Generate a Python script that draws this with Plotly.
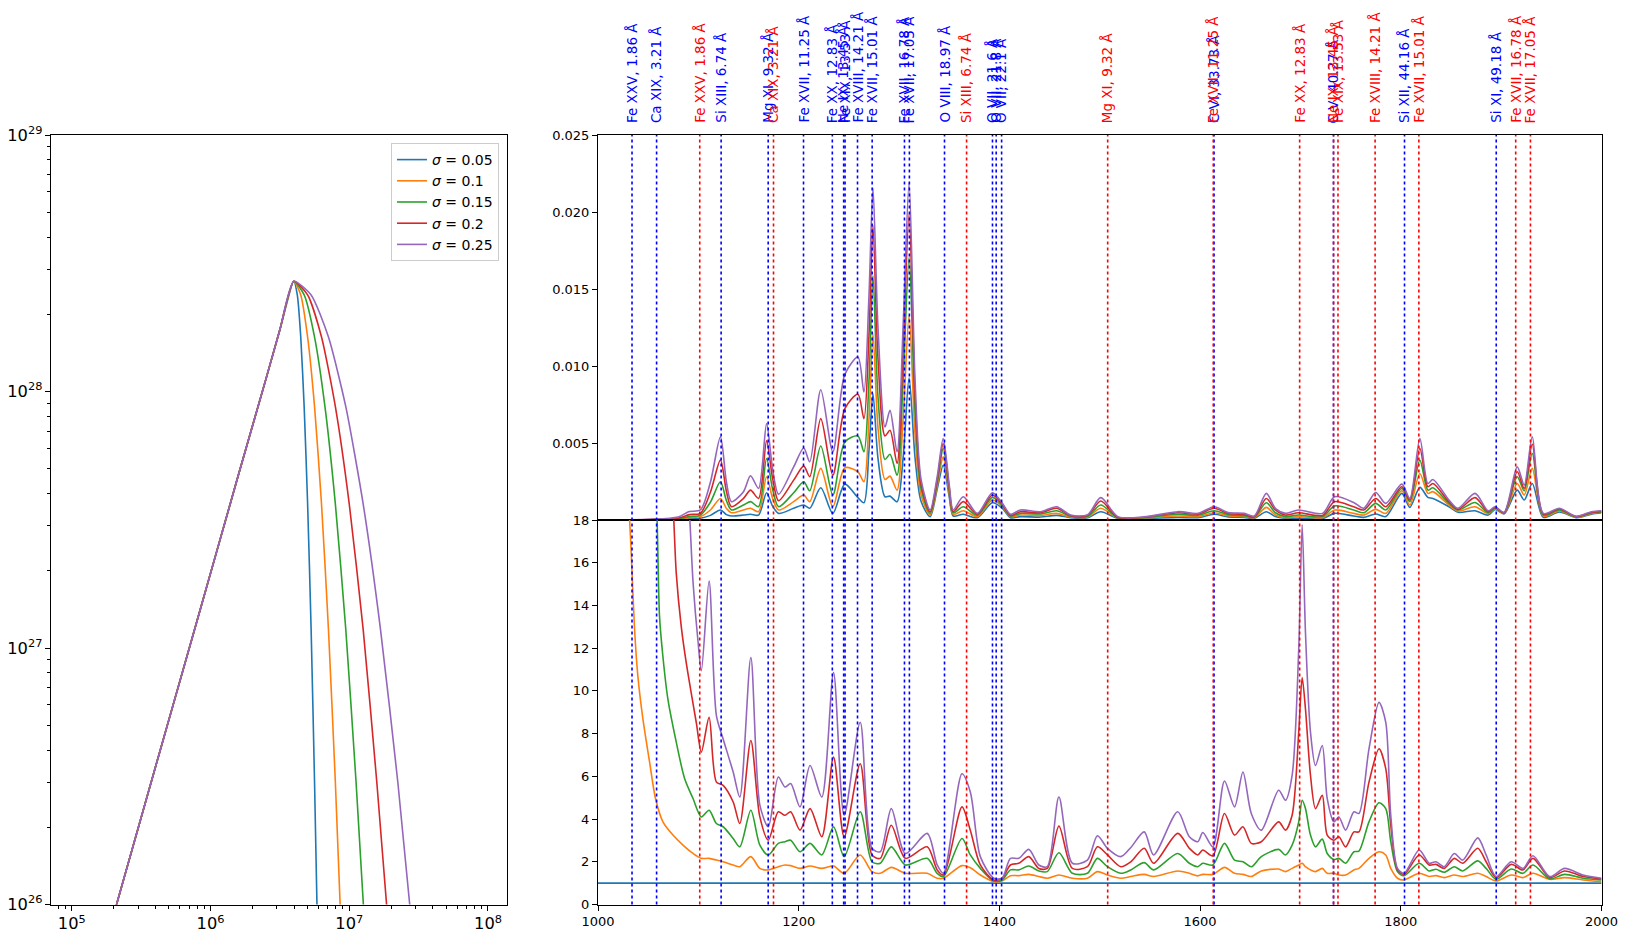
import numpy as np
import plotly.graph_objects as go

# ---------------- data ----------------
sigmas = [0.05, 0.1, 0.15, 0.2, 0.25]
colors = ["#1f77b4", "#ff7f0e", "#2ca02c", "#d62728", "#9467bd"]

# Left panel: DEM vs temperature (shared rising side)
dem_rise_T = [2.0e5, 3.98e5, 7.94e5, 1.58e6, 2.51e6, 3.16e6]
dem_rise = [9.1e25, 3.39e26, 1.26e27, 4.68e27, 1.12e28, 1.74e28]
# falling side for each sigma
dem_tail_T = {
    0.05: [3.98e6, 4.22e6, 4.47e6, 4.73e6, 5.01e6, 5.31e6, 5.62e6, 5.89e6],
    0.1: [3.98e6, 4.47e6, 5.01e6, 5.62e6, 6.31e6, 7.08e6, 7.94e6, 8.71e6],
    0.15: [3.98e6, 4.73e6, 5.62e6, 6.68e6, 7.94e6, 9.44e6, 1.12e7, 1.29e7],
    0.2: [3.98e6, 5.01e6, 6.31e6, 7.94e6, 1.0e7, 1.26e7, 1.58e7, 1.91e7],
    0.25: [3.98e6, 5.31e6, 7.08e6, 9.44e6, 1.26e7, 1.68e7, 2.24e7, 2.82e7],
}
dem_tail = [2.69e28, 2.38e28, 1.63e28, 8.73e27, 3.64e27, 1.18e27, 2.99e26, 8.3e25]

# Top-right panel: spectra (values in units of 1e-3)
spec_x = [1000, 1050, 1080, 1091, 1102, 1112, 1122, 1128, 1133, 1145, 1152, 1160, 1168, 1174, 1180,
          1195, 1205, 1211, 1222, 1234, 1246, 1259, 1265, 1270, 1274, 1279, 1286, 1291, 1298, 1304,
          1310, 1316, 1322, 1331, 1338, 1344, 1350, 1354, 1364, 1378, 1393, 1403, 1411, 1421, 1441,
          1457, 1471, 1488, 1501, 1518, 1544, 1578, 1598, 1614, 1628, 1644, 1654, 1666, 1675, 1685,
          1698, 1722, 1734, 1753, 1763, 1775, 1785, 1801, 1809, 1819, 1827, 1832, 1848, 1857, 1874,
          1887, 1894, 1903, 1916, 1923, 1931, 1942, 1958, 1975, 1990, 2000]
spec_s005 = [0.00, 0.01, 0.03, 0.08, 0.11, 0.30, 0.65, 0.35, 0.26, 0.32,
             0.37, 0.32, 1.77, 0.90, 0.43, 0.76, 0.97, 0.76, 2.09, 0.43,
             2.33, 1.45, 1.12, 4.50, 8.20, 4.00, 1.51, 1.55, 1.19, 4.00,
             9.24, 4.00, 1.20, 0.22, 2.00, 3.56, 1.50, 0.26, 0.37, 0.15,
             1.12, 0.76, 0.15, 0.22, 0.19, 0.30, 0.15, 0.15, 0.54, 0.11,
             0.11, 0.17, 0.15, 0.37, 0.20, 0.17, 0.11, 0.54, 0.22, 0.11,
             0.11, 0.09, 0.43, 0.26, 0.17, 0.39, 0.22, 1.73, 0.82, 2.12,
             1.47, 1.40, 0.86, 0.50, 0.60, 0.32, 0.69, 0.40, 1.94, 1.30,
             2.37, 0.17, 0.52, 0.15, 0.38, 0.47]
spec_s010 = [0.00, 0.01, 0.05, 0.15, 0.22, 0.65, 1.40, 0.75, 0.47, 0.65,
             0.76, 0.54, 2.81, 1.40, 0.65, 1.19, 1.62, 1.19, 3.35, 0.86,
             3.39, 3.13, 2.48, 6.50, 12.09, 6.00, 2.63, 2.85, 1.94, 6.50,
             13.28, 5.50, 1.60, 0.32, 2.20, 4.10, 1.70, 0.37, 0.60, 0.22,
             1.30, 0.86, 0.22, 0.32, 0.30, 0.43, 0.19, 0.20, 0.76, 0.13,
             0.13, 0.26, 0.22, 0.47, 0.28, 0.22, 0.15, 0.82, 0.32, 0.15,
             0.22, 0.15, 0.65, 0.43, 0.32, 0.69, 0.43, 1.90, 0.97, 3.02,
             1.73, 1.84, 0.97, 0.58, 0.86, 0.41, 0.73, 0.42, 2.37, 1.62,
             3.35, 0.26, 0.58, 0.18, 0.42, 0.50]
spec_s015 = [0.00, 0.02, 0.08, 0.22, 0.32, 1.15, 2.48, 1.25, 0.65, 0.97,
             1.19, 0.86, 3.99, 2.00, 0.86, 1.77, 2.48, 1.90, 4.81, 1.62,
             5.07, 5.46, 4.43, 9.00, 15.87, 8.00, 3.93, 4.27, 2.91, 9.00,
             17.06, 7.00, 2.00, 0.43, 2.40, 4.64, 1.90, 0.47, 0.86, 0.30,
             1.47, 0.93, 0.26, 0.43, 0.39, 0.60, 0.24, 0.25, 0.97, 0.15,
             0.15, 0.37, 0.30, 0.60, 0.35, 0.28, 0.19, 1.12, 0.47, 0.22,
             0.32, 0.22, 0.91, 0.65, 0.47, 1.08, 0.65, 2.05, 1.19, 3.89,
             1.94, 2.09, 1.08, 0.65, 1.14, 0.47, 0.78, 0.45, 2.81, 1.90,
             4.32, 0.32, 0.65, 0.20, 0.46, 0.53]
spec_s020 = [0.00, 0.03, 0.12, 0.35, 0.43, 1.80, 3.89, 1.85, 0.86, 1.40,
             1.94, 1.40, 5.14, 2.70, 1.25, 2.59, 3.50, 2.81, 6.58, 2.91,
             7.23, 8.16, 6.58, 12.0, 19.11, 10.5, 5.46, 5.83, 3.67, 11.0,
             19.86, 8.00, 2.30, 0.54, 2.60, 4.97, 2.10, 0.54, 1.19, 0.37,
             1.62, 1.01, 0.30, 0.54, 0.47, 0.76, 0.28, 0.30, 1.23, 0.17,
             0.18, 0.47, 0.38, 0.76, 0.42, 0.35, 0.22, 1.40, 0.65, 0.32,
             0.47, 0.30, 1.19, 0.86, 0.65, 1.40, 0.86, 2.16, 1.30, 4.64,
             2.16, 2.37, 1.19, 0.69, 1.45, 0.54, 0.82, 0.47, 3.13, 2.05,
             4.92, 0.39, 0.71, 0.22, 0.50, 0.56]
spec_s025 = [0.00, 0.05, 0.20, 0.55, 0.65, 2.45, 5.40, 2.45, 1.19, 1.84,
             2.87, 2.05, 6.26, 3.30, 1.68, 3.45, 4.68, 3.78, 8.46, 4.43,
             9.46, 10.58, 8.31, 14.5, 21.55, 12.5, 6.04, 7.12, 4.43, 12.5,
             21.91, 9.00, 2.60, 0.65, 2.80, 5.29, 2.30, 0.65, 1.51, 0.43,
             1.77, 1.08, 0.37, 0.65, 0.54, 0.86, 0.32, 0.35, 1.45, 0.22,
             0.20, 0.54, 0.43, 0.86, 0.48, 0.43, 0.26, 1.73, 0.76, 0.43,
             0.65, 0.43, 1.51, 1.14, 0.76, 1.79, 1.08, 2.33, 1.40, 5.29,
             2.37, 2.63, 1.30, 0.76, 1.73, 0.60, 0.86, 0.50, 3.45, 2.27,
             5.40, 0.43, 0.76, 0.24, 0.54, 0.60]
spec_scale = 1e-3

# Bottom-right panel: ratio to sigma=0.05 spectrum
ratio_x = [1103, 1110.7, 1118, 1124.7, 1134.7, 1141.3, 1152.3, 1161.3, 1169.7, 1179.7, 1186.3, 1192,
           1201.3, 1211.3, 1223, 1234.7, 1245.3, 1261.3, 1273, 1281.3, 1292.3, 1306.3, 1328, 1338,
           1344.3, 1362.7, 1371, 1381, 1394.3, 1402.7, 1411, 1419.3, 1429.3, 1439.3, 1447.7, 1459.3,
           1472.7, 1487.7, 1497.7, 1507.7, 1521, 1531, 1544.3, 1553.7, 1577.7, 1589.3, 1597.7, 1602.7,
           1612.7, 1624.3, 1634.3, 1642.7, 1651, 1661,
           1678.3, 1685, 1691.7, 1698.3, 1701.7, 1705, 1710, 1715, 1721.7, 1726.7, 1733.3, 1738.3,
           1745, 1753.3, 1758.3, 1768.3, 1778.3, 1785, 1790, 1796.7, 1803.3, 1818.3, 1828.3, 1835,
           1843.3, 1853.3, 1861.7, 1876.7, 1885, 1895, 1910, 1921.7, 1931.7, 1948.3, 1963.3, 1981.7, 2000]
ratio_s010 = [2.16, 2.16, 2.08, 2.00, 1.85, 1.77, 2.24, 1.69, 1.62, 1.77, 1.85, 1.82, 1.69, 1.80, 1.69, 1.80,
              1.46, 2.32, 1.54, 1.46, 1.74, 1.46, 1.46, 1.23,
              1.23, 1.82, 1.72, 1.38, 1.07, 1.10, 1.35, 1.35, 1.41, 1.31, 1.23, 1.38, 1.23, 1.23, 1.54,
              1.38, 1.23, 1.31, 1.41, 1.31, 1.57, 1.46, 1.34, 1.41, 1.41, 1.74, 1.46, 1.41, 1.31, 1.57,
              1.66, 1.54, 1.69, 1.85, 1.93, 1.77, 1.62, 1.54, 1.69, 1.46, 1.46, 1.38, 1.38, 1.62, 1.69,
              2.16, 2.47, 2.32, 1.69, 1.23, 1.15, 1.46, 1.31, 1.35, 1.26, 1.38, 1.31, 1.46, 1.31, 1.10,
              1.38, 1.26, 1.46, 1.18, 1.26, 1.15, 1.07]
ratio_s015 = [4.10, 4.41, 3.79, 3.64, 3.09, 2.70, 4.41, 2.78, 2.32, 2.86, 2.94, 3.01, 2.47, 2.86, 2.32, 3.64,
              2.24, 4.34, 2.00, 1.93, 2.70, 1.85, 2.16, 1.46,
              1.31, 3.09, 2.32, 1.69, 1.10, 1.15, 1.62, 1.62, 1.80, 1.57, 1.54, 2.42, 1.46, 1.46, 2.16,
              1.77, 1.46, 1.62, 1.96, 1.62, 2.39, 1.93, 1.77, 1.93, 1.85, 2.86, 2.08, 2.00, 1.77, 2.24,
              2.58, 2.32, 2.78, 3.87, 4.88, 4.49, 3.25, 2.70, 3.06, 2.39, 2.11, 2.16, 1.93, 2.47, 2.50,
              3.87, 4.76, 4.49, 2.94, 1.54, 1.35, 1.93, 1.57, 1.65, 1.51, 1.77, 1.57, 2.04, 1.69, 1.18,
              1.66, 1.46, 1.85, 1.20, 1.41, 1.23, 1.15]
ratio_s020 = [7.13, 8.76, 5.73, 5.58, 4.80, 3.79, 7.68, 4.10, 3.01, 4.34, 4.18, 4.34, 3.48, 4.49, 3.17, 6.90,
              3.17, 6.59, 2.32, 2.16, 3.71, 2.16, 2.70, 1.62,
              1.38, 4.57, 3.48, 1.85, 1.15, 1.23, 1.85, 1.93, 2.24, 1.69, 1.69, 3.67, 1.69, 1.77, 2.70,
              2.32, 1.77, 2.00, 2.63, 1.93, 3.33, 2.63, 2.32, 2.55, 2.28, 4.26, 3.25, 3.64, 2.86, 2.94,
              3.87, 3.48, 4.18, 8.07, 10.63, 9.15, 6.05, 4.49, 5.11, 3.25, 3.01, 3.17, 2.70, 3.40, 3.40,
              5.73, 7.29, 6.36, 3.71, 1.62, 1.41, 2.32, 1.85, 1.88, 1.69, 2.16, 1.93, 2.63, 2.00, 1.26,
              1.88, 1.62, 2.16, 1.26, 1.57, 1.31, 1.20]
ratio_s025 = [10.94, 15.14, 8.84, 7.75, 6.20, 5.03, 11.56, 4.65, 3.64, 5.97, 5.50, 5.66, 4.57, 6.51, 5.03,
              10.86, 4.18, 8.53, 2.63, 2.47, 4.49, 2.39, 3.33, 1.85,
              1.46, 6.12, 5.27, 2.24, 1.23, 1.23, 2.16, 2.16, 2.58, 1.85, 1.77, 5.03, 1.93, 2.08, 3.22,
              2.63, 2.24, 2.67, 3.40, 2.32, 4.34, 3.17, 2.94, 3.37, 2.70, 5.78, 4.57, 6.20, 4.26, 3.48,
              5.35, 4.88, 6.05, 11.95, 17.78, 12.73, 8.07, 6.51, 7.44, 4.96, 3.87, 4.10, 3.48, 4.34, 4.26,
              7.29, 9.46, 8.53, 4.18, 1.69, 1.46, 2.55, 1.93, 2.00, 1.77, 2.39, 2.08, 3.12, 2.32, 1.31,
              2.00, 1.69, 2.28, 1.31, 1.69, 1.38, 1.23]
# steep left-hand parts (curves leave the top of the panel)
head_x = {
    0.1: [1029.7, 1031.3, 1033, 1036.3, 1039.7, 1044.7, 1051.3, 1057.3, 1064.7, 1074.7, 1084.7, 1094.7],
    0.15: [1057.3, 1058.7, 1061.3, 1064.7, 1069.7, 1078, 1086.3, 1094.7],
    0.2: [1074, 1075.3, 1078, 1083, 1088, 1098],
    0.25: [1090, 1091.3, 1094.7, 1099.7],
}
head_y = {
    0.1: [20.0, 18.2, 16.6, 13.0, 10.7, 8.7, 6.7, 4.96, 3.87, 3.25, 2.78, 2.39],
    0.15: [19.0, 18.2, 13.5, 11.6, 9.6, 7.6, 5.9, 4.96],
    0.2: [19.0, 18.2, 15.5, 13.0, 11.3, 8.5],
    0.25: [19.0, 18.2, 15.1, 12.3],
}
ratio_s005_x = [1000, 2000]
ratio_s005 = [1.0, 1.0]

# line markers
blue_pos = [1033.9, 1058.4, 1122.7, 1169.6, 1204.8, 1233.5, 1244.8, 1246.2, 1258.6, 1273.2,
            1305.4, 1310.3, 1345.3, 1393.1, 1396.8, 1402.2, 1613.9, 1732.9, 1803.7, 1895.1]
blue_labels = ["Fe XXV, 1.86 Å", "Ca XIX, 3.21 Å", "Si XIII, 6.74 Å", "Mg XI, 9.32 Å",
               "Fe XVII, 11.25 Å", "Fe XX, 12.83 Å", "Ne IX, 13.45 Å", "Fe XIX, 13.53 Å",
               "Fe XVIII, 14.21 Å", "Fe XVII, 15.01 Å", "Fe XVII, 16.78 Å", "Fe XVII, 17.05 Å",
               "O VIII, 18.97 Å", "O VII, 21.6 Å", "O VII, 21.8 Å", "O VII, 22.1 Å",
               "C VI, 33.73 Å", "C V, 40.27 Å", "Si XII, 44.16 Å", "Si XI, 49.18 Å"]
red_pos = [1101.4, 1174.9, 1367.3, 1507.9, 1613.1, 1699.2, 1733.0, 1737.4, 1774.4, 1818.0,
           1914.5, 1929.2]
red_labels = ["Fe XXV, 1.86 Å", "Ca XIX, 3.21 Å", "Si XIII, 6.74 Å", "Mg XI, 9.32 Å",
              "Fe XVII, 11.25 Å", "Fe XX, 12.83 Å", "Ne IX, 13.45 Å", "Fe XIX, 13.53 Å",
              "Fe XVIII, 14.21 Å", "Fe XVII, 15.01 Å", "Fe XVII, 16.78 Å", "Fe XVII, 17.05 Å"]

# ---------------- figure ----------------
W, H = 1628, 943
FONT = "DejaVu Sans"
fig = go.Figure()

spec_series = [spec_s005, spec_s010, spec_s015, spec_s020, spec_s025]
ratio_series = {0.1: ratio_s010, 0.15: ratio_s015, 0.2: ratio_s020, 0.25: ratio_s025}

for s, c in zip(sigmas, colors):
    tx = dem_rise_T + dem_tail_T[s]
    ty = dem_rise + dem_tail
    fig.add_trace(go.Scatter(x=tx, y=ty, mode="lines", name=f"<i>σ</i> = {s}",
                             line=dict(color=c, width=1.6, shape="spline", smoothing=0.6),
                             xaxis="x", yaxis="y"))

for s, c, ys in zip(sigmas, colors, spec_series):
    fig.add_trace(go.Scatter(x=spec_x, y=np.array(ys) * spec_scale, mode="lines", showlegend=False,
                             line=dict(color=c, width=1.6, shape="spline", smoothing=0.8),
                             xaxis="x2", yaxis="y2"))

fig.add_trace(go.Scatter(x=ratio_s005_x, y=ratio_s005, mode="lines", showlegend=False,
                         line=dict(color=colors[0], width=1.6), xaxis="x3", yaxis="y3"))
for s, c in zip(sigmas[1:], colors[1:]):
    fig.add_trace(go.Scatter(x=head_x[s] + ratio_x, y=head_y[s] + ratio_series[s], mode="lines",
                             showlegend=False,
                             line=dict(color=c, width=1.6, shape="spline", smoothing=0.8),
                             xaxis="x3", yaxis="y3"))

# panel geometry (pixels -> paper)
def px_x(p):
    return p / W

def px_y(p):
    return (H - p) / H

top_px, mid_px, bot_px = 135, 520, 904.5
left_dom = [px_x(51), px_x(507)]
right_dom = [px_x(598), px_x(1601.5)]

axis_common = dict(showline=True, linecolor="black", linewidth=1, mirror=True, ticks="outside",
                   ticklen=5, tickcolor="black", showgrid=False, zeroline=False, automargin=False,
                   tickfont=dict(family=FONT, size=13, color="black"))

shapes = []
annotations = []
label_y = px_y(top_px) + 10 / H
for pos_list, lab_list, col in [(blue_pos, blue_labels, "blue"), (red_pos, red_labels, "red")]:
    for xp, lab in zip(pos_list, lab_list):
        shapes.append(dict(type="line", xref="x2", yref="paper", x0=xp, x1=xp,
                           y0=px_y(bot_px), y1=px_y(top_px),
                           line=dict(color=col, width=1.6, dash="dot"), layer="above"))
        annotations.append(dict(x=xp, xref="x2", y=label_y, yref="paper", text=lab,
                                textangle=-90, showarrow=False, xanchor="center", yanchor="bottom",
                                font=dict(family=FONT, size=13.5, color=col)))

fig.update_layout(
    width=W, height=H, margin=dict(l=0, r=0, t=0, b=0, pad=0, autoexpand=False),
    paper_bgcolor="white", plot_bgcolor="white",
    font=dict(family=FONT, size=13, color="black"),
    xaxis=dict(axis_common, type="log", range=[4.85, 8.137], domain=left_dom, anchor="y",
               dtick=1, exponentformat="power",
               minor=dict(ticks="outside", ticklen=3, tickcolor="black", dtick="D1")),
    yaxis=dict(axis_common, type="log", range=[26, 29], domain=[px_y(bot_px), px_y(top_px)],
               anchor="x", dtick=1, exponentformat="power",
               minor=dict(ticks="outside", ticklen=3, tickcolor="black", dtick="D1")),
    xaxis2=dict(axis_common, range=[1000, 2000], domain=right_dom, anchor="y2",
                showticklabels=False, ticks=""),
    yaxis2=dict(axis_common, range=[0, 0.025], domain=[px_y(mid_px), px_y(top_px)], anchor="x2",
                tickvals=[0.005, 0.010, 0.015, 0.020, 0.025], tickformat=".3f"),
    xaxis3=dict(axis_common, range=[1000, 2000], domain=right_dom, anchor="y3", dtick=200),
    yaxis3=dict(axis_common, range=[0, 18], domain=[px_y(bot_px), px_y(mid_px)], anchor="x3",
                dtick=2),
    legend=dict(x=px_x(499), y=px_y(143), xanchor="right", yanchor="top",
                bordercolor="#cccccc", borderwidth=1, bgcolor="white",
                font=dict(family=FONT, size=14, color="black"), tracegroupgap=2),
    shapes=shapes, annotations=annotations,
)

fig.write_html("out.html",
               post_script="document.body.style.margin='0';document.body.style.overflow='hidden';")
